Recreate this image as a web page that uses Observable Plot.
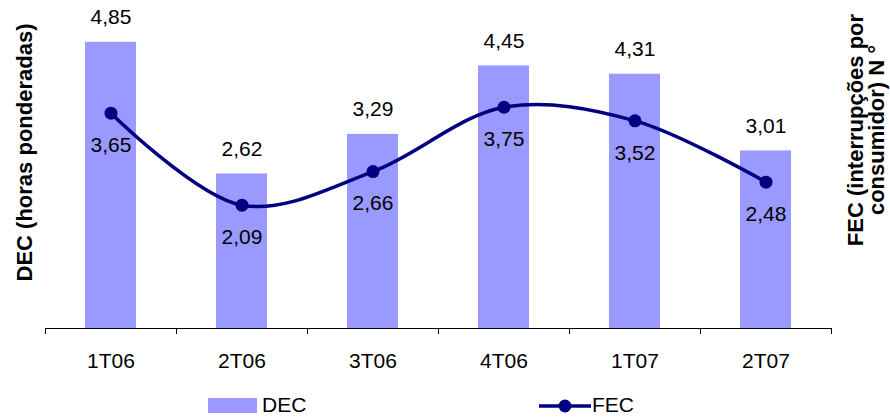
<!DOCTYPE html>
<html>
<head>
<meta charset="utf-8">
<script src="https://cdn.jsdelivr.net/npm/d3@7"></script>
<script src="https://cdn.jsdelivr.net/npm/@observablehq/plot@0.6"></script>
<style>
  body { margin: 0; background: #fff; font-family: "Liberation Sans", Arial, sans-serif; }
  #legend { position: relative; width: 890px; height: 29px; font-size: 21px; color: #000; }
  #legend .item { position: absolute; top: 0; height: 29px; display: flex; align-items: center; }
</style>
</head>
<body>
<div id="chart"></div>
<div id="legend"></div>
<script>
const categories = ["1T06", "2T06", "3T06", "4T06", "1T07", "2T07"];
const decValues = [4.85, 2.62, 3.29, 4.45, 4.31, 3.01];
const fecValues = [3.65, 2.09, 2.66, 3.75, 3.52, 2.48];
const leftTitle = "DEC (horas ponderadas)";
const rightTitle = "FEC (interrupções por\nconsumidor) N °";

const fmt = v => v.toFixed(2).replace(".", ",");
const data = categories.map((c, i) => ({cat: c, dec: decValues[i], fec: fecValues[i]}));

const W = 890, H = 390, mL = 45, mR = 59, mT = 33, mB = 62;
const step = (W - mL - mR) / categories.length;
const barColor = "#9999ff";
const lineColor = "#000080";
const font = "'Liberation Sans', Arial, sans-serif";

const chart = Plot.plot({
  width: W, height: H,
  marginLeft: mL, marginRight: mR, marginTop: mT, marginBottom: mB,
  style: {fontFamily: font, fontSize: "21px", color: "#000", background: "#fff"},
  x: {type: "band", domain: categories, paddingInner: 0.61, paddingOuter: 0.305, label: null},
  y: {domain: [0, 5], axis: null},
  marks: [
    Plot.barY(data, {x: "cat", y: "dec", fill: barColor}),
    Plot.ruleY([0], {stroke: "#000", strokeWidth: 1}),
    Plot.ruleX(categories, {x: d => d, dx: -step / 2, insetTop: (H - mT - mB) - 6, dy: 6, stroke: "#000"}),
    Plot.ruleX([categories[categories.length - 1]], {x: d => d, dx: step / 2, insetTop: (H - mT - mB) - 6, dy: 6, stroke: "#000"}),
    Plot.axisX({tickSize: 0, tickPadding: 25, fontSize: 21, label: null}),
    Plot.text(data, {x: "cat", y: "dec", text: d => fmt(d.dec), dy: -25, lineAnchor: "middle", fontSize: 21, fill: "#000"}),
    Plot.line(data, {x: "cat", y: "fec", curve: "catmull-rom", stroke: lineColor, strokeWidth: 3.5}),
    Plot.dot(data, {x: "cat", y: "fec", r: 6.5, fill: lineColor, stroke: "none"}),
    Plot.text(data, {x: "cat", y: "fec", text: d => fmt(d.fec), dy: 32, lineAnchor: "middle", fontSize: 21, fill: "#000"}),
    Plot.text([leftTitle], {frameAnchor: "left", textAnchor: "middle", rotate: -90, dx: -21, dy: -28.5, fontSize: 22, fontWeight: "bold", lineAnchor: "middle", fill: "#000"}),
    Plot.text([rightTitle], {frameAnchor: "right", textAnchor: "middle", rotate: -90, dx: 35, dy: -51, fontSize: 22, fontWeight: "bold", lineAnchor: "middle", lineHeight: 0.95, fill: "#000"})
  ]
});
document.getElementById("chart").appendChild(chart);

// Legend
const legend = document.getElementById("legend");
legend.innerHTML = `
  <div class="item" style="left:208px">
    <svg width="50" height="29"><rect x="0" y="8" width="49" height="15" fill="${barColor}"></rect></svg>
    <span style="margin-left:4px">DEC</span>
  </div>
  <div class="item" style="left:539px">
    <svg width="52" height="29"><line x1="0" y1="16" x2="52" y2="16" stroke="${lineColor}" stroke-width="3.5"></line><circle cx="26" cy="16" r="6.5" fill="${lineColor}"></circle></svg>
    <span style="margin-left:1px">FEC</span>
  </div>`;
</script>
</body>
</html>
